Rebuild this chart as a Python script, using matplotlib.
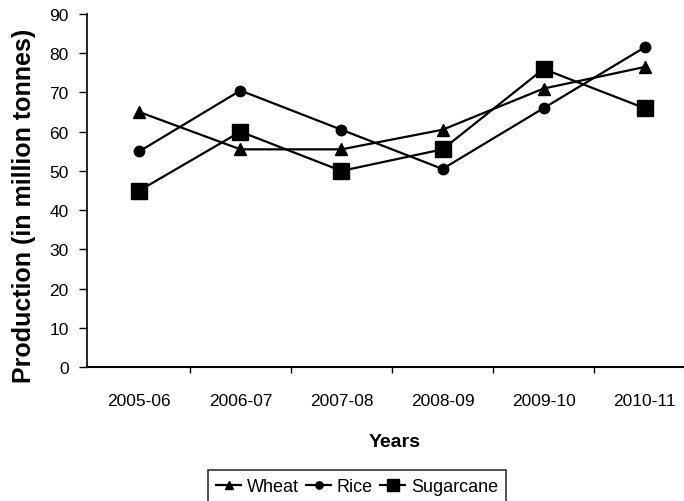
import matplotlib
matplotlib.use('Agg')
import matplotlib.pyplot as plt
import numpy as np

plt.rcParams['font.family'] = ['Liberation Sans', 'DejaVu Sans']

# data
years = ['2005-06', '2006-07', '2007-08', '2008-09', '2009-10', '2010-11']
wheat = [65, 55.5, 55.5, 60.5, 71, 76.5]
rice = [55, 70.5, 60.5, 50.5, 66, 81.5]
sugarcane = [45, 60, 50, 55.5, 76, 66]
y_ticks = [0, 10, 20, 30, 40, 50, 60, 70, 80, 90]

fig = plt.figure(figsize=(6.84, 5.02), dpi=100)
ax = fig.add_axes([0.127, 0.267, 0.873, 0.703])

x = np.arange(len(years))
ax.plot(x, wheat, color='black', lw=1.6, marker='^', ms=8, label='Wheat')
ax.plot(x, rice, color='black', lw=1.6, marker='o', ms=7.5, label='Rice')
ax.plot(x, sugarcane, color='black', lw=1.6, marker='s', ms=12, label='Sugarcane')

ax.set_xlim(-0.52, 5.39)
ax.set_ylim(0, 90)
ax.set_yticks(y_ticks)
ax.set_xticks(x)
ax.set_xticklabels(years)
ax.set_xticks(x[:-1] + 0.5, minor=True)

ax.spines['top'].set_visible(False)
ax.spines['right'].set_visible(False)
ax.spines['left'].set_linewidth(1.2)
ax.spines['bottom'].set_linewidth(1.5)

ax.tick_params(axis='x', which='major', length=0, pad=19, labelsize=12.5)
ax.tick_params(axis='x', which='minor', length=4, direction='out', width=1)
ax.tick_params(axis='y', length=6, width=1, pad=7, labelsize=12.5)

ax.set_ylabel('Production (in million tonnes)', fontsize=18, fontweight='bold', va='center')
ax.yaxis.set_label_coords(-0.105, 0.459)
ax.set_xlabel('Years', fontsize=14, fontweight='bold', va='center')
ax.xaxis.set_label_coords(0.516, -0.21)

leg = fig.legend(loc='upper center', bbox_to_anchor=(357 / 684, 1 - 462 / 502), ncol=3,
                 frameon=True, fancybox=False, edgecolor='black', fontsize=13,
                 handlelength=1.4, handletextpad=0.3, columnspacing=0.4,
                 markerscale=0.7, borderpad=0.45)
leg.get_frame().set_linewidth(1.2)

fig.savefig('out.png', dpi=100)
